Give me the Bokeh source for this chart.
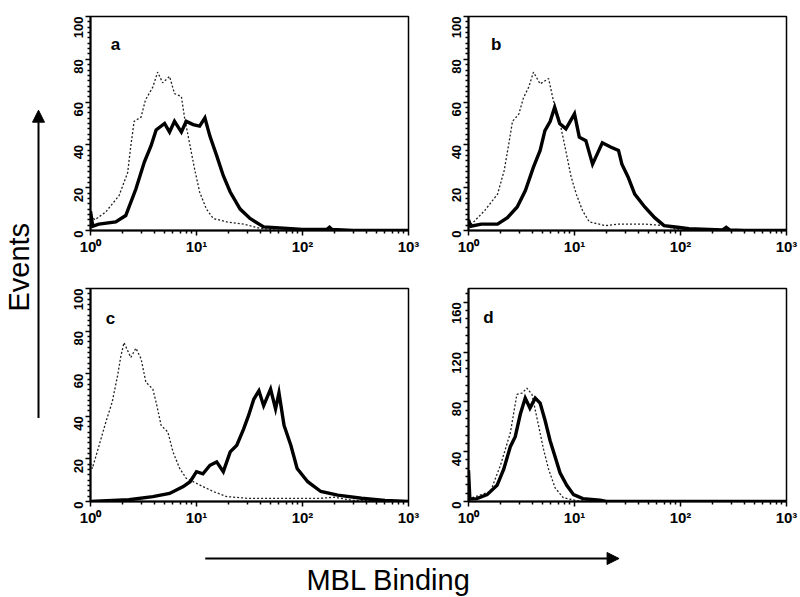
import math
import numpy as np
from bokeh.plotting import figure
from bokeh.models import FixedTicker, Label, Arrow, NormalHead, GridBox, Range1d
from bokeh.embed import file_html
from bokeh.resources import INLINE

# ---------------- data ----------------
# panel a
a_ctrl_x = [1.0, 1.1, 1.39, 1.86, 2.24, 2.4, 2.58, 3.0, 3.3, 3.87, 4.3, 4.8, 5.57, 6.2, 7.2, 7.7, 8.7, 9.6, 10.7, 12.4, 14.4, 19.3, 27.8, 40, 60, 1000]
a_ctrl_y = [7, 5, 8.6, 16.3, 27, 39.5, 51, 53, 61, 67, 74, 69, 72, 64, 62.6, 53, 39.5, 28.7, 18, 10, 5.6, 4, 3, 1, 0, 0]
a_mbl_x = [1.0, 1.05, 1.2, 1.73, 2.15, 2.68, 3.22, 3.72, 4.16, 5.0, 5.57, 6.2, 7.2, 8.0, 9.3, 10.7, 12.0, 13.4, 15.5, 17.9, 20.8, 25.8, 32, 43, 72, 100, 170, 180, 190, 300, 1000]
a_mbl_y = [9, 2, 3, 4, 7, 19.4, 32, 39.5, 47, 50, 46, 51, 46, 51, 49.5, 48.8, 52.6, 44, 35, 25.6, 18, 10, 5.6, 1.7, 1, 0.5, 0.5, 1.5, 0.5, 0, 0]
# panel b
b_ctrl_x = [1.0, 1.07, 1.42, 1.88, 2.17, 2.4, 2.6, 2.99, 3.3, 3.7, 4.1, 4.74, 5.7, 6.3, 7.25, 8.3, 9.3, 10.4, 11.9, 13.8, 19.6, 26, 46, 70, 85, 100, 1000]
b_ctrl_y = [5, 3, 9.3, 17, 28, 40.5, 51, 54.5, 62, 67, 74, 68.5, 71, 61, 51, 37, 25, 17, 9.3, 4, 2.3, 3, 3, 2.3, 1, 0, 0]
b_mbl_x = [1.0, 1.05, 1.32, 1.88, 2.33, 2.88, 3.44, 4.1, 4.74, 5.26, 5.9, 6.5, 7.25, 8.3, 10, 11.1, 12.8, 14.8, 16.4, 18.3, 21.9, 26, 28, 32, 37, 46, 57, 70, 94, 120, 250, 270, 290, 400, 1000]
b_mbl_y = [5, 2, 3, 3, 6, 11, 18.7, 29.6, 37.4, 46.7, 51, 57.6, 50, 47.5, 54.5, 43.6, 42, 31, 35.8, 41, 39, 37.4, 31, 25, 17, 11, 6, 2.3, 1.5, 0.8, 0.3, 1.5, 0.3, 0, 0]
# panel c
c_ctrl_x = [1.0, 1.04, 1.2, 1.39, 1.6, 1.8, 1.93, 2.07, 2.4, 2.68, 3.0, 3.33, 3.87, 4.16, 4.64, 5.37, 6.0, 6.94, 8.0, 9.3, 11.5, 14.4, 19.3, 30, 54, 148, 200, 300, 1000]
c_ctrl_y = [18, 15.5, 26, 37, 46.6, 59, 68, 74.6, 67.6, 72, 67, 56, 52.8, 46.6, 35.7, 32.6, 23.3, 15.5, 10.9, 9.3, 7, 4.7, 2.3, 1.5, 1.5, 1.5, 2, 0.5, 0]
c_mbl_x = [1.0, 2.3, 3.87, 5.57, 7.5, 8.7, 10, 11.5, 13.4, 15.5, 17.9, 20.8, 24, 27.8, 31, 34.7, 38.8, 43, 50, 55.7, 60, 67, 77.6, 89, 112, 149, 215, 360, 600, 1000]
c_mbl_y = [0, 0.8, 2.3, 3.8, 7, 9.3, 14, 13, 17, 18.6, 14, 23.3, 26.4, 34, 40.4, 48, 52, 45, 52.8, 43.5, 51, 35.7, 26.4, 15.5, 9.3, 4.7, 3, 1.5, 0.5, 0]
# panel d
d_ctrl_x = [1.0, 1.61, 2.0, 2.48, 2.86, 3.2, 3.55, 3.97, 4.4, 5.1, 5.67, 6.56, 7.85, 10.7, 1000]
d_ctrl_y = [2, 8, 29, 55, 86, 87, 91, 86, 68, 42, 26.5, 10.9, 3, 0.5, 0]
d_mbl_x = [1.0, 1.03, 1.2, 1.5, 1.86, 2.15, 2.48, 2.76, 3.08, 3.43, 3.8, 4.26, 4.74, 5.28, 5.88, 6.56, 7.3, 8.45, 9.8, 12, 17.4, 20, 1000]
d_mbl_y = [25, 2, 2.3, 5.5, 13, 26, 44, 52, 70, 83, 75, 83, 79, 65, 49, 36, 23, 13, 5.5, 2.3, 1, 0, 0]

x_major = [1, 10, 100, 1000]
x_tick_labels = ["10⁰", "10¹", "10²", "10³"]
y_ticks_abc = [0, 20, 40, 60, 80, 100]
y_ticks_d = [0, 40, 80, 120, 160]
panel_letters = ["a", "b", "c", "d"]

FONT = "Liberation Sans"


def panel(w, h, l, r, t, b, ymax, yticks, ystep, letter, lx, ly, cx, cy, mx, my):
    p = figure(width=w, height=h, x_axis_type="log",
               x_range=Range1d(1, 1000), y_range=Range1d(0, ymax),
               output_backend="svg", toolbar_location=None,
               min_border_left=l, min_border_right=r,
               min_border_top=t, min_border_bottom=b)
    p.grid.visible = False
    p.outline_line_color = "black"
    p.outline_line_width = 1.5
    p.background_fill_color = "white"
    p.border_fill_color = "white"

    minors_x = [m * d for d in (1, 10, 100) for m in range(2, 10)]
    p.xaxis.ticker = FixedTicker(ticks=x_major, minor_ticks=minors_x)
    p.xaxis.major_label_overrides = dict(zip(x_major, x_tick_labels))
    minors_y = [v for v in np.arange(0, ymax + 0.01, ystep) if v not in yticks]
    p.yaxis.ticker = FixedTicker(ticks=yticks, minor_ticks=minors_y)
    p.yaxis.major_label_orientation = math.pi / 2

    for ax in (p.xaxis[0], p.yaxis[0]):
        ax.axis_line_color = "black"
        ax.axis_line_width = 2
        ax.major_tick_line_color = "black"
        ax.minor_tick_line_color = "black"
        ax.major_tick_line_width = 1.5
        ax.minor_tick_line_width = 1.5
        ax.major_tick_in = 0
        ax.minor_tick_in = 0
        ax.major_tick_out = 5
        ax.minor_tick_out = 3
        ax.major_label_text_color = "black"
        ax.major_label_text_font = FONT
        ax.major_label_text_font_style = "bold"
    p.xaxis.major_label_text_font_size = "15px"
    p.xaxis.major_label_standoff = 2
    p.yaxis.major_label_text_font_size = "13px"
    p.yaxis.major_label_standoff = 7

    p.line(cx, cy, line_color="#222222", line_width=1.3, line_dash="2 2")
    p.line(mx, my, line_color="black", line_width=3.4, line_join="miter")

    p.add_layout(Label(x=lx, y=ly, text=letter, text_font=FONT,
                       text_font_size="17px", text_font_style="bold", text_color="black",
                       text_align="center", text_baseline="middle"))
    return p


pa = panel(372, 258, 32, 22, 16, 27, 100, y_ticks_abc, 2.5, panel_letters[0], 1.72, 87,
           a_ctrl_x, a_ctrl_y, a_mbl_x, a_mbl_y)
pb = panel(368, 258, 32, 12, 16, 28, 100, y_ticks_abc, 2.5, panel_letters[1], 1.82, 87,
           b_ctrl_x, b_ctrl_y, b_mbl_x, b_mbl_y)
pc = panel(372, 270, 32, 22, 30, 25, 100, y_ticks_abc, 2.5, panel_letters[2], 1.54, 86,
           c_ctrl_x, c_ctrl_y, c_mbl_x, c_mbl_y)
pd = panel(368, 270, 38, 10, 30, 24, 171, y_ticks_d, 40 / 6, panel_letters[3], 1.54, 148,
           d_ctrl_x, d_ctrl_y, d_mbl_x, d_mbl_y)


def blank(w, h):
    f = figure(width=w, height=h, x_range=Range1d(0, w), y_range=Range1d(0, h),
               output_backend="svg", toolbar_location=None,
               min_border_left=0, min_border_right=0, min_border_top=0, min_border_bottom=0)
    f.axis.visible = False
    f.grid.visible = False
    f.outline_line_color = None
    return f


pev = blank(58, 528)
pev.add_layout(Arrow(x_start=38, y_start=91, x_end=38, y_end=426, line_width=2,
                     end=NormalHead(size=12, fill_color="black", line_color="black")))
pev.add_layout(Label(x=18, y=255, text="Events", angle=math.pi / 2, text_font=FONT,
                     text_font_size="29px", text_align="center", text_baseline="middle",
                     text_color="black"))

pml = blank(740, 68)
pml.add_layout(Arrow(x_start=122, y_start=38, x_end=562, y_end=38, line_width=2,
                     end=NormalHead(size=12, fill_color="black", line_color="black")))
pml.add_layout(Label(x=317, y=17, text="MBL Binding", text_font=FONT,
                     text_font_size="29px", text_align="center", text_baseline="middle",
                     text_color="black"))

layout = GridBox(children=[(pev, 0, 0, 2, 1), (pa, 0, 1), (pb, 0, 2),
                           (pc, 1, 1), (pd, 1, 2), (pml, 2, 1, 1, 2)], spacing=0)

open("out.html", "w").write(file_html(layout, INLINE))
